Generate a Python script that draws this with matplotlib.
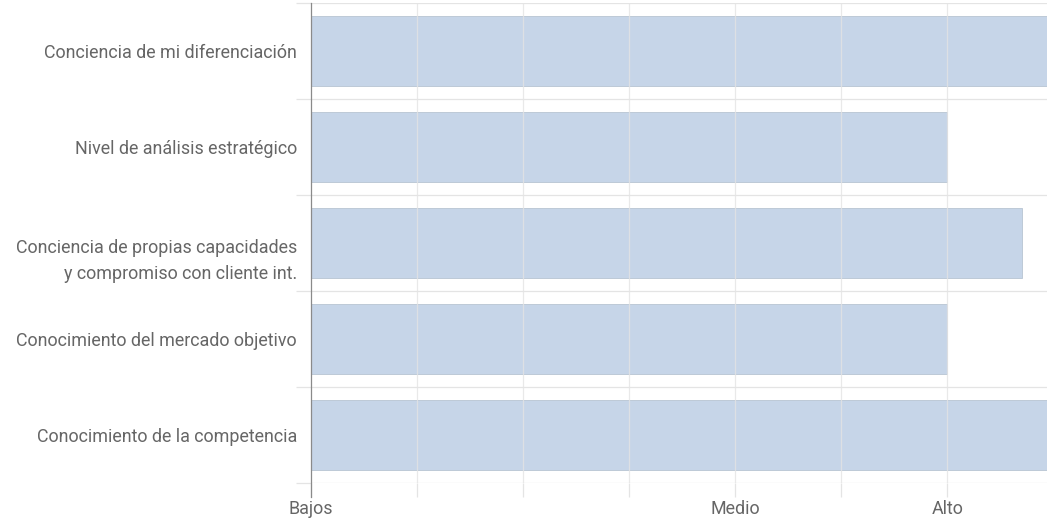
import numpy as np
import matplotlib.pyplot as plt
from matplotlib.transforms import ScaledTranslation

# data
categories = [
    "Conciencia de mi diferenciación",
    "Nivel de análisis estratégico",
    "Conciencia de propias capacidades\ny compromiso con cliente int.",
    "Conocimiento del mercado objetivo",
    "Conocimiento de la competencia",
]
values = [4.5, 4.0, 4.35, 4.0, 4.5]
level_ticks = [1, 3, 4]
level_labels = ["Bajos", "Medio", "Alto"]

plt.rcParams["font.family"] = ["Roboto", "DejaVu Sans"]

bar_color = "#c6d5e8"
grid_color = "#e4e4e4"
text_color = "#666666"
px = 72 / 100  # points per pixel
fs = 12.9

fig = plt.figure(figsize=(10.47, 5.22), dpi=100)
ax = fig.add_axes([311 / 1047, 1 - 483 / 522, 736 / 1047, 480 / 522])

y = np.arange(len(categories))
base = 1.0
ax.barh(y, np.array(values) - base, left=base, height=0.72,
        color=bar_color, edgecolor="#b8c4d2", linewidth=0.6, zorder=2)

ax.set_ylim(len(categories) - 0.5, -0.5)
ax.set_xlim(1.0, 4.47)

# vertical grid every half level, labelled only at named levels
grid_x = np.arange(1.0, 4.5, 0.5)
ax.set_xticks(grid_x)
ax.set_xticklabels([level_labels[level_ticks.index(v)] if v in level_ticks else ""
                    for v in grid_x])
for gx in grid_x[1:]:
    ax.axvline(gx, color=grid_color, linewidth=0.9, zorder=3, alpha=0.8)
ax.tick_params(axis="x", length=14 * px, width=0.9, color=grid_color,
               labelsize=fs, labelcolor=text_color, pad=2)

# horizontal separators between categories
ax.set_yticks(y)
ax.set_yticklabels(categories, ha="right")
ax.set_yticks(np.arange(-0.5, len(categories)), minor=True)
ax.grid(True, axis="y", which="minor", color=grid_color, linewidth=0.9, zorder=0)
ax.tick_params(axis="y", which="major", length=0, labelsize=fs,
               labelcolor=text_color, pad=14 * px)
ax.tick_params(axis="y", which="minor", length=15 * px, width=0.9, color=grid_color)
for lbl in ax.get_yticklabels():
    lbl.set_linespacing(1.55)
    if "\n" in lbl.get_text():
        # first line sits on the bar centre
        lbl.set_transform(lbl.get_transform()
                          + ScaledTranslation(0, -12 / 100, fig.dpi_scale_trans))

for side in ["top", "right", "bottom"]:
    ax.spines[side].set_visible(False)
ax.spines["left"].set_color("#8a8a8a")
ax.spines["left"].set_linewidth(0.9)
ax.spines["left"].set_bounds(len(categories) - 0.5 + 14 / 96, -0.5)
ax.spines["left"].set_zorder(4)

fig.savefig("out.png", dpi=100)
